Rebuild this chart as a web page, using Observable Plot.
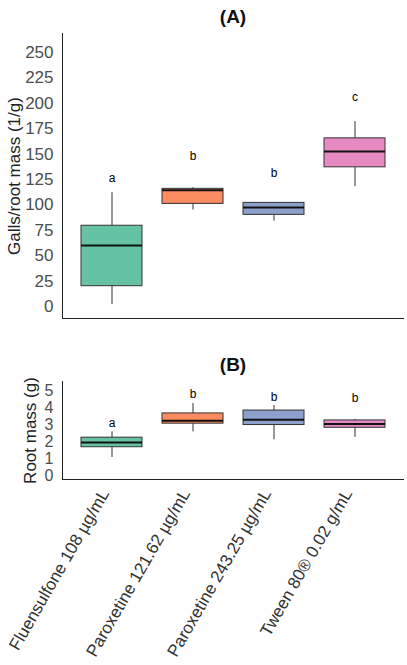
<!DOCTYPE html>
<html>
<head>
<meta charset="utf-8">
<script src="https://cdn.jsdelivr.net/npm/d3@7"></script>
<script src="https://cdn.jsdelivr.net/npm/@observablehq/plot@0.6"></script>
<style>
  html, body { margin: 0; padding: 0; background: #fff; }
  svg { display: block; }
</style>
</head>
<body>
<div id="chart"></div>
<script>
const categories = ["Fluensulfone 108 µg/mL", "Paroxetine 121.62 µg/mL", "Paroxetine 243.25 µg/mL", "Tween 80® 0.02 g/mL"];
const colors = ["#66C2A5", "#FC8D62", "#8DA0CB", "#E78AC3"];

// Panel A: galls / root mass (1/g)
const gallsLow = [2, 95, 84, 118];
const gallsQ1 = [20, 101, 90.2, 137];
const gallsMedian = [60, 114.5, 97.4, 152.5];
const gallsQ3 = [79.5, 115.8, 102, 165.5];
const gallsHigh = [112, 117, 102, 182];
const gallsLetters = ["a", "b", "b", "c"];
const gallsLetterY = [126, 148, 131, 206];
const gallsTicks = [0, 25, 50, 75, 100, 125, 150, 175, 200, 225, 250];

// Panel B: root mass (g)
const massLow = [1.1, 2.6, 2.14, 2.28];
const massQ1 = [1.7, 3.08, 3.0, 2.84];
const massMedian = [1.97, 3.25, 3.31, 3.06];
const massQ3 = [2.26, 3.68, 3.85, 3.27];
const massHigh = [2.6, 4.26, 4.15, 3.33];
const massLetters = ["a", "b", "b", "b"];
const massLetterY = [3.1, 4.8, 4.65, 4.55];
const massTicks = [0, 1, 2, 3, 4, 5];

const idx = categories.map((_, i) => i);
const font = "'Liberation Sans', Arial, sans-serif";

function panel({title, ylabel, low, q1, med, q3, high, letters, letterY, ticks, tickFont, yDomain, height, marginTop, marginBottom, showX, labelDx}) {
  const X = i => categories[i];
  const marks = [
    Plot.ruleX(idx, {x: X, y1: i => low[i], y2: i => high[i], stroke: "#333", strokeWidth: 1}),
    Plot.barY(idx, {x: X, y1: i => q1[i], y2: i => q3[i], fill: X, stroke: "#333", strokeWidth: 1}),
    Plot.tickY(idx, {x: X, y: i => med[i], stroke: "#111", strokeWidth: 2}),
    Plot.text(idx, {x: X, y: i => letterY[i], text: i => letters[i], fontSize: 12, fill: "black"}),
    Plot.frame({anchor: "left", stroke: "#222"}),
    Plot.frame({anchor: "bottom", stroke: "#222"}),
    Plot.axisY({ticks, tickFormat: d => String(d), tickSize: 0, tickPadding: 9, fontSize: tickFont, fill: "#4d4d4d", label: null}),
    Plot.text([ylabel], {text: d => d, frameAnchor: "left", rotate: -90, dx: labelDx, fontSize: 17, fill: "#222", textAnchor: "middle", lineAnchor: "middle"}),
    Plot.text([title], {text: d => d, frameAnchor: "top", dy: -24, fontSize: 19, fontWeight: "bold", fill: "#111"})
  ];
  if (showX) {
    marks.push(Plot.axisX({tickRotate: -60, tickSize: 0, tickPadding: 6, dx: -7, dy: 5, fontSize: 17, fill: "#333", label: null}));
  }
  return Plot.plot({
    width: 407,
    height,
    marginLeft: 62,
    marginRight: 4,
    marginTop,
    marginBottom,
    style: {fontFamily: font, background: "#fff"},
    x: {domain: categories, paddingInner: 0.25, paddingOuter: 0.217, axis: showX ? undefined : null},
    y: {domain: yDomain},
    color: {domain: categories, range: colors},
    marks
  });
}

const chart = document.getElementById("chart");
chart.appendChild(panel({
  title: "(A)", ylabel: "Galls/root mass (1/g)",
  low: gallsLow, q1: gallsQ1, med: gallsMedian, q3: gallsQ3, high: gallsHigh,
  letters: gallsLetters, letterY: gallsLetterY, ticks: gallsTicks, tickFont: 17,
  yDomain: [-11.8, 268.7], height: 330, marginTop: 33, marginBottom: 12, showX: false, labelDx: -48
}));
chart.appendChild(panel({
  title: "(B)", ylabel: "Root mass (g)",
  low: massLow, q1: massQ1, med: massMedian, q3: massQ3, high: massHigh,
  letters: massLetters, letterY: massLetterY, ticks: massTicks, tickFont: 16,
  yDomain: [-0.19, 5.55], height: 335, marginTop: 51, marginBottom: 186, showX: true, labelDx: -32
}));
</script>
</body>
</html>
